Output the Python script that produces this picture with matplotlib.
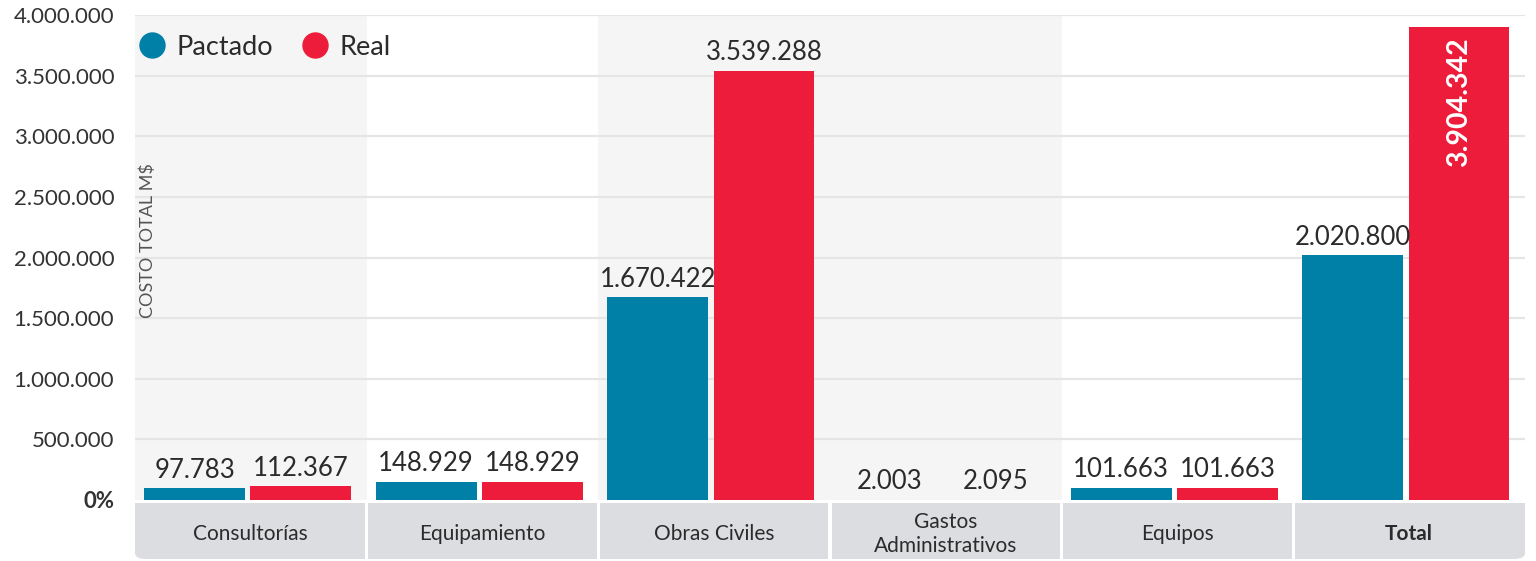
import matplotlib
matplotlib.use("Agg")
import matplotlib.pyplot as plt
from matplotlib.patches import Rectangle, FancyBboxPatch
from matplotlib.lines import Line2D
import matplotlib.transforms as mtransforms
import numpy as np

plt.rcParams['font.family'] = ['Lato', 'DejaVu Sans']

# Data
categories = ["Consultorías", "Equipamiento", "Obras Civiles", "Gastos\nAdministrativos", "Equipos", "Total"]
pactado = [97783, 148929, 1670422, 2003, 101663, 2020800]
real = [112367, 148929, 3539288, 2095, 101663, 3904342]
shaded = [True, False, True, True, False, False]
yticks = [0, 500000, 1000000, 1500000, 2000000, 2500000, 3000000, 3500000, 4000000]

C_PACT = "#007fa7"
C_REAL = "#ee1c3b"
TXT = "#2b2b2b"
BOX = "#dcdde0"


def fmt(v):
    return f"{v:,}".replace(",", ".")


W, H = 1536, 561
fig = plt.figure(figsize=(W / 100, H / 100), dpi=100)
ax = fig.add_axes([135 / W, 1 - 500 / H, 1390 / W, 485 / H])

n = len(categories)
x = np.arange(n)
bw = 0.435
off = 0.229
shift = -0.014

ax.set_xlim(-0.5, n - 0.5)
ax.set_ylim(0, 4000000)

# alternating band background
for i, s in enumerate(shaded):
    if s:
        ax.axvspan(i - 0.5, i + 0.5, color="#f5f5f5", zorder=0, lw=0)

# grid lines
for t in yticks[1:]:
    ax.axhline(t, color="#e5e5e5", lw=1.6, zorder=1)

ax.bar(x + shift - off, pactado, bw, color=C_PACT, zorder=3)
ax.bar(x + shift + off, real, bw, color=C_REAL, zorder=3)

# value labels
for i in range(n):
    ax.text(x[i] + shift - off, pactado[i] + 45000, fmt(pactado[i]), ha="center", va="bottom",
            fontsize=18.5, color=TXT, zorder=4)
    if i == n - 1:
        ax.text(x[i] + shift + off, real[i] - 90000, fmt(real[i]), ha="center", va="top", rotation=90,
                fontsize=20.5, color="white", fontweight="bold", zorder=4)
    else:
        ax.text(x[i] + shift + off, real[i] + 45000, fmt(real[i]), ha="center", va="bottom",
                fontsize=18.5, color=TXT, zorder=4)

# axes styling
for sp in ax.spines.values():
    sp.set_visible(False)
ax.set_xticks([])
ax.set_yticks(yticks)
labels = ["0%"] + [fmt(t) for t in yticks[1:]]
ax.set_yticklabels(labels, fontsize=16, color="#333333")
ax.tick_params(axis="y", length=0, pad=15)
ax.get_yticklabels()[0].set_fontweight("bold")

# y label inside the plot
ax.text(0.009, 0.375, "COSTO TOTAL M$", transform=ax.transAxes, rotation=90, ha="center", va="bottom",
        fontsize=13, color="#555555")

# legend
handles = [Line2D([], [], marker="o", ls="", markersize=18, color=C_PACT),
           Line2D([], [], marker="o", ls="", markersize=18, color=C_REAL)]
ax.legend(handles, ["Pactado", "Real"], loc="upper left", bbox_to_anchor=(-0.025, 1.01), ncol=2,
          frameon=False, fontsize=19.5, handletextpad=-0.1, columnspacing=0.55, labelcolor=TXT)

# category label boxes below the axis
trans = mtransforms.blended_transform_factory(ax.transData, fig.transFigure)
y0 = 1 - 559 / H
y1 = 1 - 503 / H
gap = 0.007
for i, cat in enumerate(categories):
    l, r = i - 0.5 + gap, i + 0.5 - gap
    if i == 0:
        l = i - 0.5
    if i == n - 1:
        r = i + 0.5
    if i in (0, n - 1):
        fb = FancyBboxPatch((l, y0), r - l, y1 - y0, boxstyle="round,pad=0,rounding_size=0.05",
                            mutation_aspect=0.2, transform=trans, color=BOX, lw=0, clip_on=False)
        fig.add_artist(fb)
        # square off the other corners
        fig.add_artist(Rectangle((l, (y0 + y1) / 2), r - l, (y1 - y0) / 2, transform=trans,
                                 color=BOX, lw=0))
        if i == 0:
            fig.add_artist(Rectangle(((l + r) / 2, y0), (r - l) / 2, y1 - y0, transform=trans,
                                     color=BOX, lw=0))
        else:
            fig.add_artist(Rectangle((l, y0), (r - l) / 2, y1 - y0, transform=trans,
                                     color=BOX, lw=0))
    else:
        fig.add_artist(Rectangle((l, y0), r - l, y1 - y0, transform=trans, color=BOX, lw=0))
    t = fig.text(0, 1 - 534 / H, cat, transform=trans, ha="center", va="center", fontsize=15,
                 color=TXT, linespacing=1.2, fontweight="bold" if cat == "Total" else "normal")
    t.set_x(i)

fig.savefig("out.png", dpi=100)
